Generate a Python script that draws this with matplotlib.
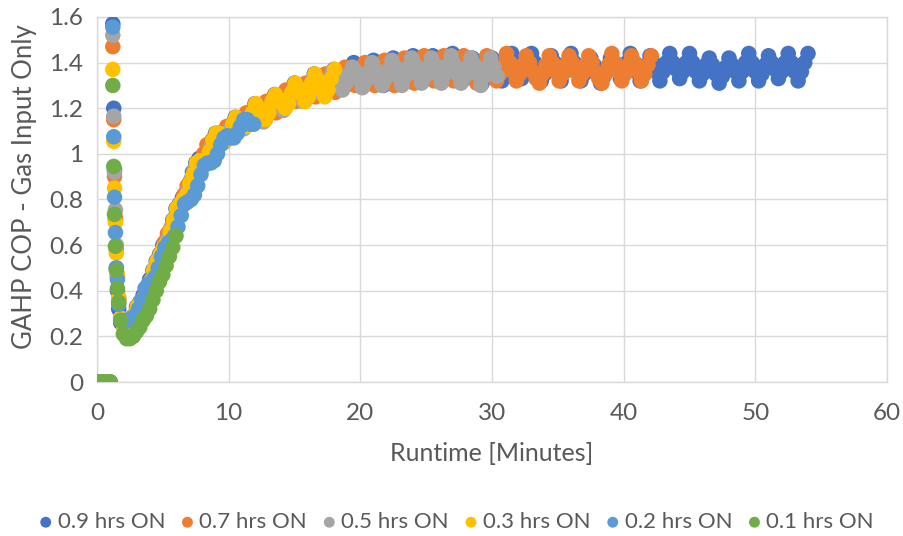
import numpy as np
import matplotlib
matplotlib.use("Agg")
import matplotlib.pyplot as plt

# ---------------------------------------------------------------- data
# Runtime in minutes. Each run: a few zero readings, a start-up spike that
# falls off, then readings every 15 s (0.25 min) from t0 onward.
LABELS = ["0.9 hrs ON", "0.7 hrs ON", "0.5 hrs ON",
          "0.3 hrs ON", "0.2 hrs ON", "0.1 hrs ON"]

ZERO_T = [0.1, 0.4, 0.7, 1.0]
DROP_T = [1.20, 1.27, 1.33, 1.40, 1.47, 1.55, 1.65, 1.80]

drop_09 = [1.57, 1.20, 0.93, 0.71, 0.50, 0.40, 0.32, 0.26]
drop_07 = [1.47, 1.15, 0.90, 0.72, 0.58, 0.46, 0.36, 0.28]
drop_05 = [1.52, 1.165, 0.92, 0.755, 0.60, 0.47, 0.37, 0.28]
drop_03 = [1.37, 1.055, 0.85, 0.70, 0.565, 0.47, 0.37, 0.28]
drop_02 = [1.555, 1.075, 0.81, 0.655, 0.50, 0.45, 0.34, 0.27]
drop_01 = [1.30, 0.945, 0.735, 0.595, 0.49, 0.41, 0.35, 0.27]

T0 = [2.0, 2.1, 2.15, 2.05, 2.15, 2.0]
STEP = 0.25

cop_09 = [0.25, 0.25, 0.27, 0.29, 0.33, 0.35,
          0.38, 0.40, 0.45, 0.49, 0.53, 0.56,
          0.60, 0.62, 0.66, 0.71, 0.76, 0.78,
          0.81, 0.83, 0.87, 0.92, 0.96, 0.98,
          0.98, 0.99, 1.02, 1.06, 1.09, 1.09,
          1.08, 1.08, 1.10, 1.13, 1.16, 1.15,
          1.14, 1.14, 1.15, 1.18, 1.22, 1.21,
          1.18, 1.17, 1.19, 1.23, 1.26, 1.25,
          1.23, 1.22, 1.24, 1.27, 1.31, 1.29,
          1.27, 1.25, 1.27, 1.31, 1.35, 1.33,
          1.30, 1.27, 1.30, 1.34, 1.37, 1.35,
          1.32, 1.30, 1.32, 1.36, 1.40, 1.37,
          1.33, 1.30, 1.33, 1.37, 1.41, 1.38,
          1.34, 1.30, 1.34, 1.38, 1.42, 1.39,
          1.35, 1.31, 1.35, 1.39, 1.43, 1.40,
          1.36, 1.32, 1.35, 1.39, 1.43, 1.40,
          1.37, 1.33, 1.36, 1.40, 1.44, 1.40,
          1.36, 1.32, 1.35, 1.39, 1.42, 1.39,
          1.35, 1.31, 1.34, 1.38, 1.42, 1.39,
          1.36, 1.32, 1.36, 1.40, 1.44, 1.40,
          1.37, 1.33, 1.36, 1.40, 1.44, 1.40,
          1.36, 1.32, 1.35, 1.39, 1.43, 1.40,
          1.36, 1.32, 1.36, 1.40, 1.44, 1.40,
          1.36, 1.32, 1.35, 1.39, 1.42, 1.39,
          1.35, 1.31, 1.34, 1.38, 1.42, 1.39,
          1.37, 1.33, 1.36, 1.40, 1.44, 1.40,
          1.36, 1.32, 1.35, 1.39, 1.43, 1.40,
          1.36, 1.32, 1.36, 1.40, 1.44, 1.40,
          1.37, 1.33, 1.36, 1.40, 1.44, 1.40,
          1.36, 1.32, 1.35, 1.39, 1.42, 1.39,
          1.35, 1.31, 1.34, 1.38, 1.42, 1.39,
          1.36, 1.32, 1.36, 1.40, 1.44, 1.40,
          1.36, 1.32, 1.35, 1.39, 1.43, 1.40,
          1.37, 1.33, 1.36, 1.40, 1.44, 1.40,
          1.36, 1.32, 1.36, 1.40, 1.44]

cop_07 = [0.24, 0.26, 0.26, 0.28, 0.30, 0.34,
          0.37, 0.41, 0.44, 0.48, 0.50, 0.55,
          0.61, 0.65, 0.67, 0.70, 0.72, 0.76,
          0.82, 0.86, 0.88, 0.90, 0.92, 0.95,
          1.00, 1.04, 1.04, 1.03, 1.04, 1.06,
          1.09, 1.12, 1.11, 1.10, 1.10, 1.12,
          1.15, 1.18, 1.17, 1.15, 1.14, 1.16,
          1.20, 1.23, 1.22, 1.20, 1.18, 1.21,
          1.25, 1.28, 1.27, 1.24, 1.23, 1.25,
          1.28, 1.31, 1.30, 1.27, 1.25, 1.27,
          1.32, 1.35, 1.33, 1.30, 1.27, 1.30,
          1.34, 1.38, 1.35, 1.32, 1.30, 1.32,
          1.36, 1.40, 1.37, 1.33, 1.30, 1.33,
          1.37, 1.41, 1.38, 1.34, 1.30, 1.34,
          1.38, 1.42, 1.39, 1.35, 1.31, 1.35,
          1.39, 1.43, 1.40, 1.36, 1.32, 1.35,
          1.39, 1.43, 1.40, 1.36, 1.32, 1.35,
          1.39, 1.43, 1.40, 1.36, 1.33, 1.31, 1.35,
          1.39, 1.43, 1.40, 1.36, 1.32, 1.35,
          1.39, 1.44, 1.40, 1.36, 1.32, 1.35,
          1.39, 1.43, 1.40, 1.36, 1.33, 1.31, 1.35,
          1.39, 1.43, 1.40, 1.36, 1.32, 1.35,
          1.39, 1.43, 1.40, 1.36, 1.32, 1.35,
          1.39, 1.43, 1.40, 1.36, 1.33, 1.31, 1.35,
          1.39, 1.44, 1.40, 1.36, 1.32, 1.35,
          1.39, 1.43, 1.40, 1.36, 1.32, 1.35,
          1.39, 1.43]

cop_05 = [0.23, 0.24, 0.26, 0.30, 0.32, 0.35,
          0.37, 0.41, 0.45, 0.50, 0.53, 0.56,
          0.59, 0.63, 0.68, 0.72, 0.75, 0.77,
          0.80, 0.84, 0.89, 0.93, 0.95, 0.96,
          0.96, 0.99, 1.03, 1.06, 1.06, 1.06,
          1.05, 1.07, 1.11, 1.13, 1.13, 1.12,
          1.11, 1.13, 1.16, 1.18, 1.18, 1.16,
          1.14, 1.17, 1.21, 1.24, 1.23, 1.21,
          1.19, 1.22, 1.25, 1.28, 1.27, 1.25,
          1.23, 1.25, 1.29, 1.32, 1.31, 1.27,
          1.26, 1.29, 1.33, 1.36, 1.34, 1.31,
          1.28, 1.31, 1.35, 1.38, 1.36, 1.33,
          1.29, 1.32, 1.36, 1.40, 1.37, 1.33,
          1.30, 1.33, 1.37, 1.41, 1.38, 1.34,
          1.30, 1.34, 1.38, 1.42, 1.39, 1.35,
          1.31, 1.34, 1.38, 1.42, 1.39, 1.35,
          1.31, 1.35, 1.39, 1.43, 1.39, 1.35,
          1.31, 1.34, 1.38, 1.42, 1.39, 1.35,
          1.30, 1.34, 1.38, 1.42, 1.38, 1.34]

cop_03 = [0.24, 0.24, 0.26, 0.29, 0.33, 0.35,
          0.37, 0.40, 0.44, 0.49, 0.53, 0.56,
          0.59, 0.61, 0.66, 0.71, 0.76, 0.78,
          0.80, 0.82, 0.87, 0.91, 0.96, 0.97,
          0.97, 0.97, 1.01, 1.06, 1.09, 1.09,
          1.07, 1.06, 1.08, 1.13, 1.16, 1.15,
          1.13, 1.12, 1.14, 1.18, 1.22, 1.20,
          1.17, 1.15, 1.18, 1.23, 1.26, 1.24,
          1.22, 1.20, 1.22, 1.27, 1.31, 1.29,
          1.26, 1.23, 1.25, 1.31, 1.35, 1.32,
          1.28, 1.25, 1.28, 1.33, 1.37]

cop_02 = [0.27, 0.27, 0.28, 0.29, 0.32, 0.36,
          0.41, 0.43, 0.44, 0.46, 0.50, 0.55,
          0.59, 0.61, 0.62, 0.64, 0.68, 0.73,
          0.78, 0.79, 0.80, 0.82, 0.86, 0.91,
          0.95, 0.96, 0.96, 0.97, 1.00, 1.04,
          1.07, 1.08, 1.07, 1.07, 1.09, 1.12,
          1.15, 1.15, 1.13, 1.13]

cop_01 = [0.21, 0.19, 0.19, 0.20, 0.22, 0.24, 0.27, 0.29, 0.32,
          0.36, 0.40, 0.44, 0.47, 0.51, 0.55, 0.59, 0.64]

DROPS = [drop_09, drop_07, drop_05, drop_03, drop_02, drop_01]
RUNS = [cop_09, cop_07, cop_05, cop_03, cop_02, cop_01]

X_TICKS = [0, 10, 20, 30, 40, 50, 60]
Y_TICKS = [0, 0.2, 0.4, 0.6, 0.8, 1.0, 1.2, 1.4, 1.6]
Y_TICK_LABELS = ["0", "0.2", "0.4", "0.6", "0.8", "1", "1.2", "1.4", "1.6"]

# ---------------------------------------------------------------- style
COLORS = ["#4472C4", "#ED7D31", "#A5A5A5", "#FFC000", "#5B9BD5", "#70AD47"]
TEXT = "#595959"
GRID = "#d9d9d9"
plt.rcParams["font.family"] = ["Lato", "DejaVu Sans"]

fig = plt.figure(figsize=(9.04, 5.36), dpi=100)
ax = fig.add_axes([0.1073, 0.2873, 0.8739, 0.681])

for label, color, drop, run, t0 in zip(LABELS, COLORS, DROPS, RUNS, T0):
    t_run = t0 + STEP * np.arange(len(run))
    x = np.concatenate([ZERO_T, DROP_T, t_run])
    y = np.concatenate([np.zeros(len(ZERO_T)), drop, run])
    ax.scatter(x, y, s=125, color=color, edgecolors="none", label=label,
               zorder=3)

ax.set_xlim(0, 60)
ax.set_ylim(0, 1.6)
ax.set_xticks(X_TICKS)
ax.set_yticks(Y_TICKS)
ax.set_yticklabels(Y_TICK_LABELS)
ax.grid(color=GRID, lw=1.0, zorder=0)
ax.set_axisbelow(True)
for side in ax.spines:
    ax.spines[side].set_color(GRID)
    ax.spines[side].set_linewidth(1.0)
ax.tick_params(length=0, colors=TEXT, labelsize=17.5)
ax.tick_params(axis="x", pad=15)
ax.tick_params(axis="y", pad=10)

ax.set_xlabel("Runtime [Minutes]", fontsize=18, color=TEXT)
ax.xaxis.label.set_va("center")
ax.xaxis.set_label_coords(0.5, -0.195)
ax.set_ylabel("GAHP COP - Gas Input Only", fontsize=18.5, color=TEXT)
ax.yaxis.label.set_va("center")
ax.yaxis.set_label_coords(-0.092, 0.534)

leg = fig.legend(loc="center", bbox_to_anchor=(0.505, 0.026), ncol=6,
                 frameon=False, fontsize=16, markerscale=0.7,
                 scatterpoints=1, handlelength=0.6, handletextpad=0.24,
                 columnspacing=0.70, borderaxespad=0)
for txt in leg.get_texts():
    txt.set_color(TEXT)

fig.savefig("out.png", dpi=100)
